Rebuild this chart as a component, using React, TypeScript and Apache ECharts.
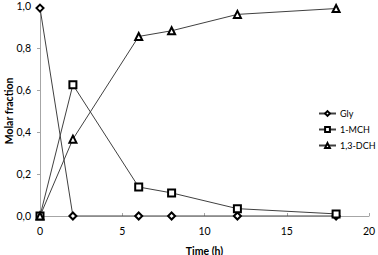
import React, { useEffect, useRef } from "react";
import * as echarts from "echarts";

const timeH = [0, 2, 6, 8, 12, 18];
const gly = [0.99, 0.0, 0.0, 0.0, 0.0, 0.0];
const mch = [0.0, 0.625, 0.138, 0.11, 0.035, 0.01];
const dch = [0.0, 0.366, 0.855, 0.882, 0.96, 0.988];
const xTicks = [0, 5, 10, 15, 20];
const yTicks = [0, 0.2, 0.4, 0.6, 0.8, 1.0];

const FONT = "Lato, 'Open Sans', sans-serif";

export default function App() {
  const ref = useRef<HTMLDivElement>(null);
  useEffect(() => {
    if (!ref.current) return;
    const chart = echarts.init(ref.current, null, { renderer: "svg" });
    const mk = (name: string, vals: number[], symbol: string, size: number) => ({
      name,
      type: "line",
      data: timeH.map((t, i) => [t, vals[i]]),
      symbol,
      symbolSize: size,
      showAllSymbol: true,
      lineStyle: { color: "#404040", width: 1 },
      itemStyle: { color: "#ffffff", borderColor: "#000000", borderWidth: 2 },
      emphasis: { disabled: true },
    });
    chart.setOption({
      animation: false,
      backgroundColor: "#ffffff",
      grid: { left: 40, right: 9, top: 6, bottom: 39, containLabel: false, outerBoundsMode: "none" },
      xAxis: {
        type: "value",
        min: 0,
        max: 20,
        interval: 5,
        name: "Time (h)",
        nameLocation: "middle",
        nameGap: 29,
        nameMoveOverlap: false,
        nameTextStyle: { fontFamily: FONT, fontSize: 10.5, fontWeight: "bold", color: "#000" },
        axisLine: { show: true, lineStyle: { color: "#a6a6a6", width: 1 } },
        axisTick: { show: true, inside: true, length: 3, lineStyle: { color: "#a6a6a6" } },
        axisLabel: {
          fontFamily: FONT,
          fontSize: 10.5,
          color: "#000",
          margin: 9,
          formatter: (v: number) => (xTicks.includes(v) ? String(v) : ""),
        },
        splitLine: { show: false },
      },
      yAxis: {
        type: "value",
        min: 0,
        max: 1,
        interval: 0.2,
        name: "Molar fraction",
        nameLocation: "middle",
        nameGap: 26,
        nameMoveOverlap: false,
        nameTextStyle: { fontFamily: FONT, fontSize: 10.5, fontWeight: "bold", color: "#000" },
        axisLine: { show: true, lineStyle: { color: "#a6a6a6", width: 1 } },
        axisTick: { show: true, inside: false, length: 3, lineStyle: { color: "#a6a6a6" } },
        axisLabel: {
          fontFamily: FONT,
          fontSize: 10.5,
          color: "#000",
          margin: 9,
          formatter: (v: number) => {
            const t = yTicks.find((y) => Math.abs(y - v) < 1e-6);
            return t === undefined ? "" : t.toFixed(1).replace(".", ",");
          },
        },
        splitLine: { show: false },
      },
      legend: {
        orient: "vertical",
        left: 318,
        top: 109,
        padding: 0,
        itemGap: 7,
        itemWidth: 17,
        itemHeight: 6,
        textStyle: { fontFamily: FONT, fontSize: 9, color: "#000", padding: [0, 0, 0, -1] },
        data: ["Gly", "1-MCH", "1,3-DCH"],
      },
      series: [
        mk("Gly", gly, "diamond", 7),
        mk("1-MCH", mch, "rect", 7),
        mk("1,3-DCH", dch, "triangle", 7),
      ],
    });
    return () => chart.dispose();
  }, []);
  return <div ref={ref} style={{ width: 378, height: 255, position: "absolute", left: 0, top: 0 }} />;
}
